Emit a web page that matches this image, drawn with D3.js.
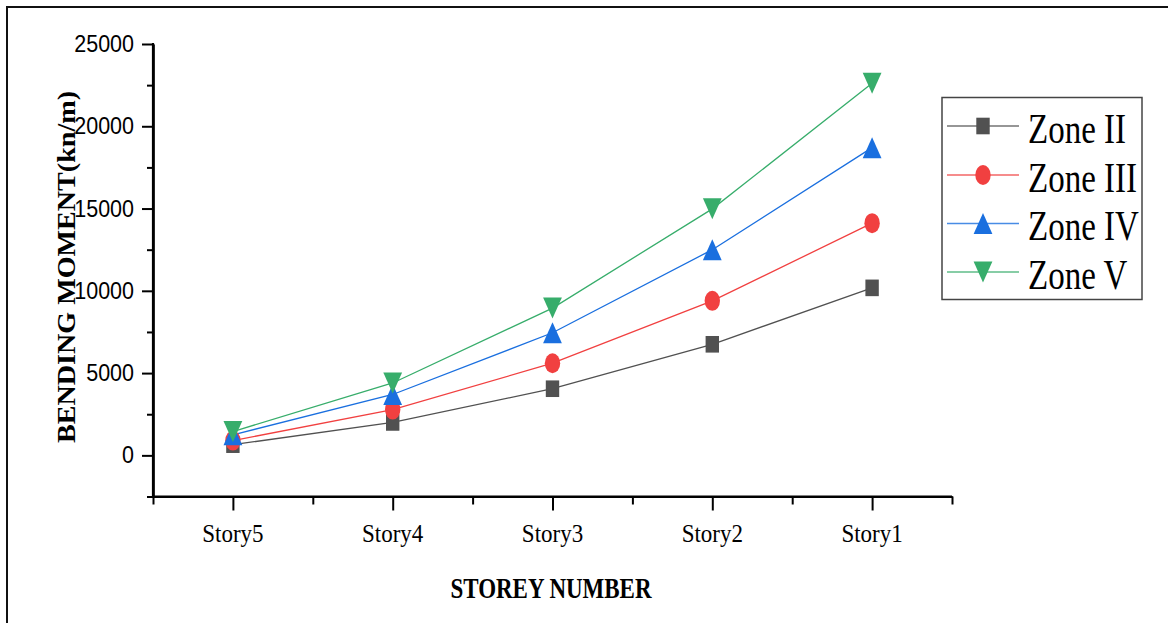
<!DOCTYPE html>
<html>
<head>
<meta charset="utf-8">
<script src="https://cdn.jsdelivr.net/npm/d3@7"></script>
<style>
  html, body { margin: 0; padding: 0; background: #fff; }
  svg { display: block; }
</style>
</head>
<body>
<svg id="chart" width="1168" height="623"></svg>
<script>
// ---- data ----
const categories = ["Story5", "Story4", "Story3", "Story2", "Story1"];
const seriesNames = ["Zone II", "Zone III", "Zone IV", "Zone V"];
const zoneII  = [650, 2000, 4050, 6750, 10180];
const zoneIII = [900, 2780, 5600, 9390, 14110];
const zoneIV  = [1250, 3700, 7450, 12500, 18700];
const zoneV   = [1450, 4400, 8950, 14980, 22610];
const yTicks = [0, 5000, 10000, 15000, 20000, 25000];
const yMinorTicks = [-2500, 2500, 7500, 12500, 17500, 22500];
const yDomain = [-2500, 25000];

const colors = ["#515151", "#F14040", "#1A6FDF", "#37AD6B"];
const symbols = ["square", "circle", "triUp", "triDown"];
const seriesValues = [zoneII, zoneIII, zoneIV, zoneV];

const svg = d3.select("#chart");

// outer frame
svg.append("rect").attr("x", 7).attr("y", 7).attr("width", 1200).attr("height", 700)
  .attr("fill", "none").attr("stroke", "#111").attr("stroke-width", 2);

const pLeft = 153, pRight = 952, pTop = 44, pBottom = 496.5;

const x = d3.scalePoint().domain(categories).range([pLeft, pRight]).padding(0.5);
const step = x.step();
const y = d3.scaleLinear().domain(yDomain).range([pBottom, pTop]);

// ---- axes ----
const yAxis = svg.append("g").attr("transform", `translate(${pLeft},0)`)
  .call(d3.axisLeft(y).tickValues(yTicks).tickSize(11).tickSizeOuter(0).tickFormat(""));
const yMinor = svg.append("g").attr("transform", `translate(${pLeft},0)`)
  .call(d3.axisLeft(y).tickValues(yMinorTicks).tickSize(6).tickSizeOuter(0).tickFormat(""));
const xAxis = svg.append("g").attr("transform", `translate(0,${pBottom})`)
  .call(d3.axisBottom(x).tickSize(14).tickSizeOuter(0).tickFormat(""));
const bounds = d3.range(categories.length + 1).map(i => pLeft + i * step);
const xMinor = svg.append("g").attr("transform", `translate(0,${pBottom})`)
  .call(d3.axisBottom(d3.scaleLinear().domain([pLeft, pRight]).range([pLeft, pRight]))
    .tickValues(bounds).tickSize(8).tickSizeOuter(0).tickFormat(""));

[yAxis, yMinor, xAxis, xMinor].forEach(g => {
  g.selectAll("path.domain").attr("stroke", "#000").attr("stroke-width", 2.2);
  g.selectAll(".tick line").attr("stroke", "#000").attr("stroke-width", 2);
});
svg.append("line").attr("x1", pLeft).attr("x2", pLeft).attr("y1", pTop - 1).attr("y2", pBottom + 1)
  .attr("stroke", "#000").attr("stroke-width", 2.2);
svg.append("line").attr("x1", pLeft - 1).attr("x2", pRight).attr("y1", pBottom).attr("y2", pBottom)
  .attr("stroke", "#000").attr("stroke-width", 2.2);

// y tick labels (sans)
svg.append("g").selectAll("text").data(yTicks).join("text")
  .attr("transform", d => `translate(134,${y(d) + 8}) scale(1,1.1)`)
  .attr("text-anchor", "end")
  .attr("font-family", "Liberation Sans, Arial, sans-serif")
  .attr("font-size", 21.5)
  .attr("fill", "#000")
  .text(d => d);

// x tick labels (serif)
svg.append("g").selectAll("text").data(categories).join("text")
  .attr("transform", d => `translate(${x(d)},541.5) scale(1,1.07)`)
  .attr("text-anchor", "middle")
  .attr("font-family", "Liberation Serif, Times New Roman, serif")
  .attr("font-size", 23)
  .attr("fill", "#000")
  .text(d => d);

// axis titles
svg.append("text")
  .attr("transform", "translate(551,597.5) scale(1,1.27)")
  .attr("text-anchor", "middle")
  .attr("font-family", "Liberation Serif, Times New Roman, serif")
  .attr("font-weight", "bold")
  .attr("font-size", 23)
  .attr("fill", "#000")
  .text("STOREY NUMBER");

svg.append("text")
  .attr("transform", "translate(74.5,267) rotate(-90)")
  .attr("text-anchor", "middle")
  .attr("font-family", "Liberation Serif, Times New Roman, serif")
  .attr("font-weight", "bold")
  .attr("font-size", 26)
  .attr("textLength", 352)
  .attr("lengthAdjust", "spacingAndGlyphs")
  .attr("fill", "#000")
  .text("BENDING MOMENT(kn/m)");

// ---- marker drawing ----
function drawMarker(g, type, color) {
  if (type === "square") {
    g.append("rect").attr("x", -6.7).attr("y", -8.3).attr("width", 13.4).attr("height", 16.6)
      .attr("fill", color);
  } else if (type === "circle") {
    g.append("ellipse").attr("rx", 7.7).attr("ry", 10).attr("fill", color);
  } else if (type === "triUp") {
    g.append("path").attr("d", "M0,-10.5 L9.4,10.5 L-9.4,10.5 Z").attr("fill", color);
  } else {
    g.append("path").attr("d", "M0,10.5 L9.4,-10.5 L-9.4,-10.5 Z").attr("fill", color);
  }
}

const line = d3.line().x((d, i) => x(categories[i])).y(d => y(d));

seriesValues.forEach((vals, s) => {
  svg.append("path").datum(vals).attr("d", line)
    .attr("fill", "none").attr("stroke", colors[s]).attr("stroke-width", 1.3);
});
seriesValues.forEach((vals, s) => {
  vals.forEach((v, i) => {
    const g = svg.append("g").attr("transform", `translate(${x(categories[i])},${y(v)})`);
    drawMarker(g, symbols[s], colors[s]);
  });
});

// ---- legend ----
const legend = svg.append("g");
legend.append("rect").attr("x", 942).attr("y", 97.5).attr("width", 200).attr("height", 202)
  .attr("fill", "#fff").attr("stroke", "#444").attr("stroke-width", 1.5);
const rowY = [126, 175, 223.5, 272];
seriesNames.forEach((name, s) => {
  const ry = rowY[s];
  legend.append("line").attr("x1", 947).attr("x2", 1019).attr("y1", ry).attr("y2", ry)
    .attr("stroke", colors[s]).attr("stroke-width", 1.3).attr("stroke-opacity", 0.8);
  const g = legend.append("g").attr("transform", `translate(983,${ry})`);
  drawMarker(g, symbols[s], colors[s]);
  legend.append("text")
    .attr("transform", `translate(1028,${ry + 16.5}) scale(1,1.27)`)
    .attr("font-family", "Liberation Serif, Times New Roman, serif")
    .attr("font-size", 33)
    .attr("fill", "#000")
    .text(name);
});
</script>
</body>
</html>
